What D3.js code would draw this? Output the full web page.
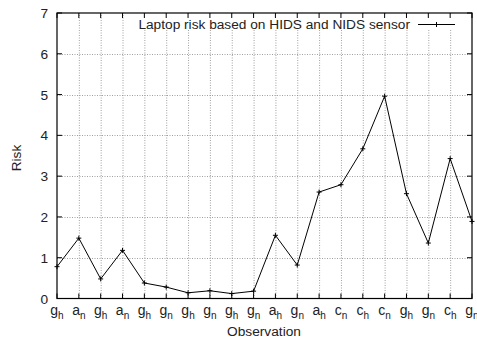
<!DOCTYPE html>
<html><head><meta charset="utf-8">
<script src="https://cdn.jsdelivr.net/npm/d3@7"></script>
<style>body{margin:0;background:#fff}svg{display:block;font-family:"Liberation Sans",Arial,sans-serif}</style>
</head><body>
<svg id="c" width="477" height="339"></svg>
<script>
const catBase = ["g","a","g","a","g","g","g","g","g","g","a","g","a","c","c","c","g","g","c","g"];
const catSub  = ["h","n","h","n","h","n","h","n","h","n","h","n","h","n","h","n","h","n","h","n"];
const riskValues = [0.78,1.48,0.48,1.18,0.38,0.28,0.14,0.19,0.12,0.18,1.55,0.82,2.61,2.79,3.67,4.96,2.57,1.36,3.43,1.89];
const yTicks = [0,1,2,3,4,5,6,7];
const seriesName = "Laptop risk based on HIDS and NIDS sensor";

const svg = d3.select("#c");
const L=57, R=472, T=13, B=298.5;
const x = d3.scaleLinear().domain([0, riskValues.length-1]).range([L,R]);
const y = d3.scaleLinear().domain([0,7]).range([B,T]);
const idx = d3.range(riskValues.length);

// grid
const grid = svg.append("g").attr("stroke","#888").attr("stroke-width",0.8).attr("stroke-dasharray","1,1.5");
grid.selectAll(".vg").data(idx.slice(1,-1)).join("line")
  .attr("x1",d=>x(d)+0.5).attr("x2",d=>x(d)+0.5).attr("y1",B).attr("y2",T);
grid.selectAll(".hg").data(yTicks.slice(1,-1)).join("line")
  .attr("x1",L).attr("x2",R).attr("y1",d=>Math.round(y(d))+0.5).attr("y2",d=>Math.round(y(d))+0.5);

// legend background
svg.append("rect").attr("x",135).attr("y",T+1).attr("width",R-136).attr("height",16).attr("fill","#fff");

// ticks (inside, gnuplot style)
const tk = svg.append("g").attr("stroke","#000").attr("stroke-width",1);
idx.forEach(d=>{
  tk.append("line").attr("x1",x(d)).attr("x2",x(d)).attr("y1",B).attr("y2",B-5);
  tk.append("line").attr("x1",x(d)).attr("x2",x(d)).attr("y1",T).attr("y2",T+5);
});
yTicks.forEach(d=>{
  tk.append("line").attr("x1",L).attr("x2",L+5).attr("y1",y(d)).attr("y2",y(d));
  tk.append("line").attr("x1",R).attr("x2",R-5).attr("y1",y(d)).attr("y2",y(d));
});

// frame
svg.append("rect").attr("x",L).attr("y",T).attr("width",R-L).attr("height",B-T)
  .attr("fill","none").attr("stroke","#000").attr("stroke-width",1.2);

// y labels
svg.append("g").selectAll("text").data(yTicks).join("text")
  .attr("x",L-9).attr("y",d=>y(d)+5).attr("text-anchor","end")
  .attr("font-size",13.7).attr("fill","#222").text(d=>d);

// x labels with subscripts
const xl = svg.append("g").selectAll("text").data(idx).join("text")
  .attr("x",d=>x(d)).attr("y",315).attr("text-anchor","middle").attr("font-size",14).attr("fill","#222");
xl.append("tspan").text(d=>catBase[d]);
xl.append("tspan").attr("dy",4).attr("font-size",10).text(d=>catSub[d]);

// axis titles
svg.append("text").attr("x",264).attr("y",336).attr("text-anchor","middle").attr("font-size",13.7).attr("fill","#222").text("Observation");
svg.append("text").attr("transform","translate(21,158) rotate(-90)").attr("text-anchor","middle").attr("font-size",13.7).attr("fill","#222").text("Risk");

// line
const line = d3.line().x((d,i)=>x(i)).y(d=>y(d));
svg.append("path").datum(riskValues).attr("d",line).attr("fill","none").attr("stroke","#000").attr("stroke-width",1);
const pm = svg.append("g").attr("stroke","#000").attr("stroke-width",1);
riskValues.forEach((v,i)=>{
  pm.append("line").attr("x1",x(i)-2.5).attr("x2",x(i)+2.5).attr("y1",y(v)).attr("y2",y(v));
  pm.append("line").attr("x1",x(i)).attr("x2",x(i)).attr("y1",y(v)-2.5).attr("y2",y(v)+2.5);
});

// legend
svg.append("text").attr("x",410).attr("y",29).attr("text-anchor","end").attr("font-size",13.7).attr("fill","#222").text(seriesName);
svg.append("line").attr("x1",418).attr("x2",455).attr("y1",24.5).attr("y2",24.5).attr("stroke","#000");
svg.append("line").attr("x1",434).attr("x2",439).attr("y1",24.5).attr("y2",24.5).attr("stroke","#000");
svg.append("line").attr("x1",436.5).attr("x2",436.5).attr("y1",22).attr("y2",27).attr("stroke","#000");
</script>
</body></html>
